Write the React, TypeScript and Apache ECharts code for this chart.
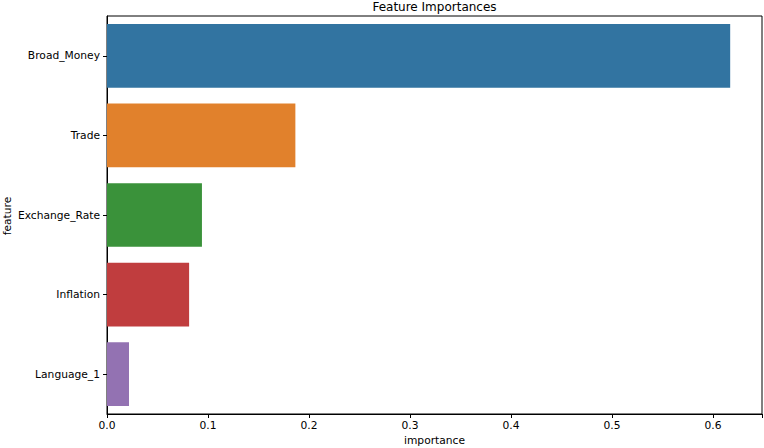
import React, { useEffect, useRef } from "react";
import * as echarts from "echarts";

const features = ["Broad_Money", "Trade", "Exchange_Rate", "Inflation", "Language_1"];
const importances = [0.617, 0.1865, 0.094, 0.0813, 0.0218];
const colors = ["#3274a1", "#e1812c", "#3a923a", "#c03d3e", "#9372b2"];

const FONT = "DejaVu Sans";
const FS = 10.7;

export default function App() {
  const ref = useRef<HTMLDivElement>(null);
  useEffect(() => {
    if (!ref.current) return;
    const chart = echarts.init(ref.current, null, { renderer: "svg" });
    chart.setOption({
      animation: false,
      textStyle: { fontFamily: FONT },
      grid: {
        left: 107,
        right: 2,
        top: 16,
        bottom: 34,
        show: true,
        borderColor: "#000",
        borderWidth: 1,
        backgroundColor: "transparent",
        containLabel: false,
        outerBoundsMode: "none",
      },
      graphic: [
        {
          type: "text",
          x: 434.5,
          y: 7,
          style: {
            text: "Feature Importances",
            font: `12px ${FONT}`,
            fill: "#000",
            textAlign: "center",
            textVerticalAlign: "middle",
          },
        },
        {
          type: "text",
          x: 7,
          y: 216,
          rotation: Math.PI / 2,
          style: {
            text: "feature",
            font: `${FS}px ${FONT}`,
            fill: "#000",
            textAlign: "center",
            textVerticalAlign: "middle",
          },
        },
      ],
      xAxis: {
        type: "value",
        min: 0,
        max: 0.6485,
        interval: 0.1,
        name: "importance",
        nameLocation: "middle",
        nameGap: 21,
        nameMoveOverlap: false,
        nameTextStyle: { color: "#000", fontSize: FS, fontFamily: FONT },
        splitLine: { show: false },
        axisLine: { show: true, lineStyle: { color: "#000", width: 1 } },
        axisTick: { show: true, length: 4, lineStyle: { color: "#000" } },
        axisLabel: {
          color: "#000",
          fontSize: FS,
          fontFamily: FONT,
          margin: 6,
          formatter: (v: number) => {
            const r = Math.round(v * 10) / 10;
            return Math.abs(r - v) < 1e-6 ? r.toFixed(1) : "";
          },
        },
      },
      yAxis: {
        type: "category",
        data: features,
        inverse: true,
        axisLine: { show: true, lineStyle: { color: "#000", width: 1 } },
        axisTick: { show: true, alignWithLabel: true, length: 4, lineStyle: { color: "#000" } },
        axisLabel: { color: "#000", fontSize: FS, fontFamily: FONT, margin: 7 },
      },
      series: [
        {
          type: "bar",
          barCategoryGap: "20%",
          data: importances.map((v, i) => ({ value: v, itemStyle: { color: colors[i] } })),
        },
      ],
    });
    return () => chart.dispose();
  }, []);
  return <div ref={ref} style={{ width: 764, height: 448, position: "absolute", left: 0, top: 0 }} />;
}
